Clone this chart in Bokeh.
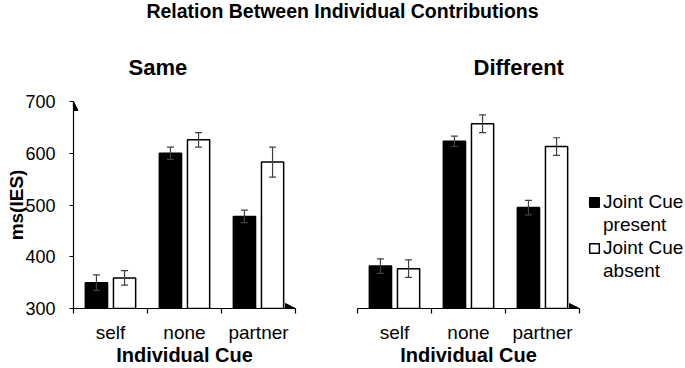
from bokeh.plotting import figure
from bokeh.models import (Range1d, FixedTicker, ColumnDataSource, Whisker, TeeHead,
                          Arrow, NormalHead, Legend, LegendItem, Div)
from bokeh.layouts import column, row
from bokeh.embed import file_html
from bokeh.resources import INLINE

FONT = "Liberation Sans"

# ---- data ----
cats = ["self", "none", "partner"]
series_names = ["Joint Cue present", "Joint Cue absent"]

same_present = [350, 600, 478]
same_present_err = [15, 12, 12]
same_absent = [359, 626, 583]
same_absent_err = [14, 14, 29]

diff_present = [382, 623, 495]
diff_present_err = [14, 10, 14]
diff_absent = [377, 657, 613]
diff_absent_err = [17, 17, 17]

y_ticks = [300, 400, 500, 600, 700]
main_title = "Relation Between Individual Contributions"
panel_titles = ["Same", "Different"]
x_title = "Individual Cue"
y_title = "ms(IES)"

BAR_W = 0.30
DODGE = 0.19
H = 344
idx = list(range(len(cats)))


def panel(title, present, perr, absent, aerr, show_y, width, bl, br, title_off):
    p = figure(width=width, height=H, x_range=Range1d(0, len(cats)),
               y_range=Range1d(y_ticks[0], y_ticks[-1]),
               min_border_left=bl, min_border_right=br,
               min_border_top=77, min_border_bottom=59,
               output_backend="svg", toolbar_location=None, title=title)
    p.outline_line_color = None
    p.grid.visible = False
    p.background_fill_color = "white"
    p.border_fill_color = "white"

    p.title.align = "left"
    p.title.offset = title_off
    p.title.standoff = 44
    p.title.text_font = FONT
    p.title.text_font_size = "22px"
    p.title.text_font_style = "bold"
    p.title.text_color = "black"

    src_p = ColumnDataSource(dict(
        x=[i + 0.5 - DODGE for i in idx], top=present,
        upper=[v + e for v, e in zip(present, perr)],
        lower=[v - e for v, e in zip(present, perr)]))
    src_a = ColumnDataSource(dict(
        x=[i + 0.5 + DODGE for i in idx], top=absent,
        upper=[v + e for v, e in zip(absent, aerr)],
        lower=[v - e for v, e in zip(absent, aerr)]))

    p.vbar(x="x", top="top", bottom=y_ticks[0], width=BAR_W, source=src_p,
           fill_color="black", line_color="black", line_width=1.5)
    p.vbar(x="x", top="top", bottom=y_ticks[0], width=BAR_W, source=src_a,
           fill_color="white", line_color="black", line_width=1.5)

    for src in (src_p, src_a):
        w = Whisker(source=src, base="x", upper="upper", lower="lower",
                    line_color="#404040", line_width=1.2, level="overlay",
                    upper_head=TeeHead(size=7, line_color="#404040", line_width=1.2),
                    lower_head=TeeHead(size=7, line_color="#404040", line_width=1.2))
        p.add_layout(w)

    # x axis
    xa = p.xaxis[0]
    xa.ticker = FixedTicker(ticks=[i + 0.5 for i in idx],
                            minor_ticks=list(range(len(cats) + 1)))
    xa.major_label_overrides = {i + 0.5: c for i, c in zip(idx, cats)}
    xa.major_tick_in = 0
    xa.major_tick_out = 0
    xa.minor_tick_in = 0
    xa.minor_tick_out = 5
    xa.minor_tick_line_color = "black"
    xa.minor_tick_line_width = 1.2
    xa.axis_line_color = "black"
    xa.axis_line_width = 1.2
    xa.major_label_text_font = FONT
    xa.major_label_text_font_size = "19px"
    xa.major_label_text_color = "black"
    xa.major_label_standoff = 8
    xa.axis_label = x_title
    xa.axis_label_text_font = FONT
    xa.axis_label_text_font_size = "20px"
    xa.axis_label_text_font_style = "bold"
    xa.axis_label_text_color = "black"
    xa.axis_label_standoff = -2

    p.add_layout(Arrow(end=NormalHead(size=10, fill_color="black", line_color="black",
                                      line_width=1),
                       x_start=len(cats) - 0.05, y_start=y_ticks[0],
                       x_end=len(cats), y_end=y_ticks[0], level="overlay",
                       line_color="black", line_width=1.2))

    ya = p.yaxis[0]
    if show_y:
        ya.ticker = FixedTicker(ticks=y_ticks)
        ya.major_tick_in = 0
        ya.major_tick_out = 4
        ya.minor_tick_out = 0
        ya.minor_tick_in = 0
        ya.major_tick_line_color = "black"
        ya.axis_line_color = "black"
        ya.axis_line_width = 1.2
        ya.major_label_text_font = FONT
        ya.major_label_text_font_size = "18px"
        ya.major_label_text_color = "black"
        ya.major_label_standoff = 14
        ya.axis_label = y_title
        ya.axis_label_text_font = FONT
        ya.axis_label_text_font_size = "19px"
        ya.axis_label_text_font_style = "bold"
        ya.axis_label_text_color = "black"
        ya.axis_label_standoff = -5
        p.add_layout(Arrow(end=NormalHead(size=9, fill_color="black", line_color="black",
                                          line_width=1),
                           x_start=0, y_start=y_ticks[-1] - 10,
                           x_end=0, y_end=y_ticks[-1], level="overlay",
                           line_color="black", line_width=1.2))
    else:
        ya.visible = False
    return p


p1 = panel(panel_titles[0], same_present, same_present_err, same_absent,
           same_absent_err, True, 330, 73, 35, 55)
p2 = panel(panel_titles[1], diff_present, diff_present_err, diff_absent,
           diff_absent_err, False, 257, 27, 8, 116)

# legend panel (hidden proxy renderers only supply the legend swatches)
n_c = len(cats)
p3 = figure(width=685 - 330 - 257, height=H, x_range=Range1d(n_c + 1, n_c + 2),
            y_range=Range1d(0, 1),
            min_border=0, x_axis_location=None, y_axis_location=None,
            output_backend="svg", toolbar_location=None)
p3.grid.visible = False
p3.outline_line_color = None
lx = [i + 0.5 for i in idx]
r_present = p3.vbar(x=lx, top=diff_present, bottom=y_ticks[0], width=BAR_W,
                    fill_color="black", line_color="black", line_width=1.5)
r_absent = p3.vbar(x=lx, top=diff_absent, bottom=y_ticks[0], width=BAR_W,
                   fill_color="white", line_color="black", line_width=1.5)
r_blank = p3.vbar(x=lx, top=diff_absent, bottom=y_ticks[0], width=BAR_W,
                  fill_alpha=0, line_alpha=0)
for r in (r_present, r_absent, r_blank):
    r.visible = False
n1 = series_names[0].split(" ")
n2 = series_names[1].split(" ")
legend = Legend(items=[
    LegendItem(label=" ".join(n1[:2]), renderers=[r_present]),
    LegendItem(label=n1[2], renderers=[r_blank]),
    LegendItem(label=" ".join(n2[:2]), renderers=[r_absent]),
    LegendItem(label=n2[2], renderers=[r_blank]),
], location=(1, 26), margin=0, padding=0, spacing=1,
    glyph_width=12, glyph_height=12, label_height=20, label_standoff=3,
    label_text_font=FONT, label_text_font_size="19px", label_text_color="black",
    inactive_fill_alpha=0,
    border_line_color=None, background_fill_alpha=0)
p3.add_layout(legend)

div = Div(text=main_title, width=685, height=24, margin=0,
          styles={"font-family": FONT, "font-weight": "bold", "font-size": "19.5px",
                  "text-align": "center", "line-height": "22px", "color": "black",
                  "width": "685px"})

layout = column(div, row(p1, p2, p3))
open("out.html", "w").write(file_html(layout, INLINE))
